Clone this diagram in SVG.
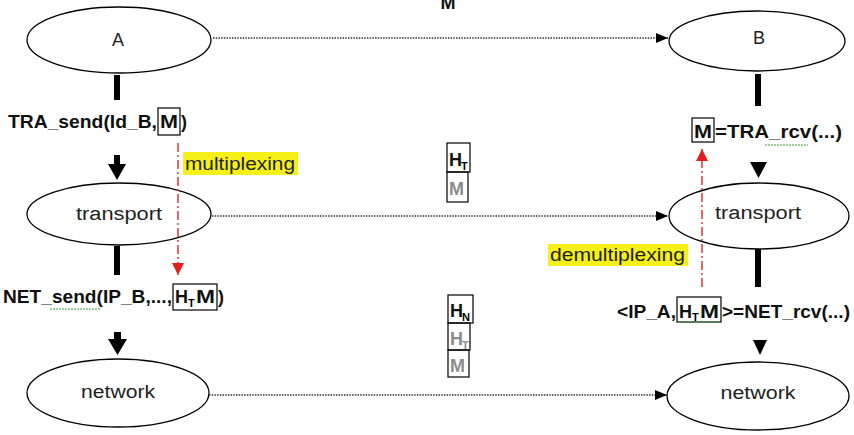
<svg xmlns="http://www.w3.org/2000/svg" width="854" height="435" viewBox="0 0 854 435">
<style>
.node{fill:#fff;stroke:#000;stroke-width:1.3}
.lbl{font-family:"Liberation Sans",Arial,sans-serif;font-size:18px;fill:#222}
.b{font-family:"Liberation Sans",Arial,sans-serif;font-size:18px;font-weight:bold;fill:#111}
.sub{font-family:"Liberation Sans",Arial,sans-serif;font-size:11px;font-weight:bold}
.gray{fill:#8c8c8c}
.box{fill:none;stroke:#000;stroke-width:1.2}
.dot{fill:none;stroke:#333;stroke-width:1.6;stroke-dasharray:1.5 1.2}
.red{fill:none;stroke:#e53535;stroke-width:1.5;stroke-dasharray:9 3 2 3}
.thick{stroke:#000;stroke-width:6}
.hl{fill:#f5f018}
.sq{fill:none;stroke:#3aa03a;stroke-width:1;stroke-dasharray:2 1}
</style>
<defs>
<marker id="ah" markerWidth="12" markerHeight="10" refX="12" refY="5" orient="auto" markerUnits="userSpaceOnUse"><path d="M0,0 L12,5 L0,10 Z" fill="#000"/></marker>
<marker id="rh" markerWidth="12" markerHeight="12" refX="12" refY="6" orient="auto" markerUnits="userSpaceOnUse"><path d="M0,0 L12,6 L0,12 Z" fill="#e51e1e"/></marker>
</defs>

<text class="b" x="448" y="9" text-anchor="middle">M</text>

<g id="nodeA"><ellipse class="node" cx="119" cy="40" rx="92" ry="33"/><text class="lbl" x="118" y="46" text-anchor="middle">A</text></g>
<g id="nodeB"><ellipse class="node" cx="757" cy="41" rx="88" ry="30"/><text class="lbl" x="759" y="44" text-anchor="middle">B</text></g>
<g id="transportL"><ellipse class="node" cx="119" cy="214" rx="92" ry="31"/><text class="lbl" x="119" y="220" text-anchor="middle" textLength="86" lengthAdjust="spacingAndGlyphs">transport</text></g>
<g id="transportR"><ellipse class="node" cx="759" cy="216" rx="90" ry="33"/><text class="lbl" x="758" y="219" text-anchor="middle" textLength="86" lengthAdjust="spacingAndGlyphs">transport</text></g>
<g id="networkL"><ellipse class="node" cx="118" cy="393" rx="91" ry="34"/><text class="lbl" x="118" y="398" text-anchor="middle" textLength="74" lengthAdjust="spacingAndGlyphs">network</text></g>
<g id="networkR"><ellipse class="node" cx="758" cy="396" rx="91" ry="34"/><text class="lbl" x="758" y="399" text-anchor="middle" textLength="75" lengthAdjust="spacingAndGlyphs">network</text></g>

<g id="connectors">
<line class="dot" x1="213" y1="38" x2="668" y2="38" marker-end="url(#ah)"/>
<line class="dot" x1="212" y1="216" x2="668" y2="216" marker-end="url(#ah)"/>
<line class="dot" x1="209" y1="395" x2="667" y2="395" marker-end="url(#ah)"/>
<line class="thick" x1="117" y1="75" x2="117" y2="100"/>
<line class="thick" x1="117" y1="246" x2="117" y2="275"/>
<line class="thick" x1="758" y1="74" x2="758" y2="106"/>
<line class="thick" x1="758" y1="249" x2="758" y2="287"/>
<path d="M114,155 H120 V164 H126 L117,180 L108,164 H114 Z" fill="#000"/>
<path d="M114,332 H121 V339 H127 L117.5,355 L108,339 H114 Z" fill="#000"/>
<path d="M750,162 H767 L758.5,178 Z" fill="#000"/>
<path d="M753,340 H767 L760,355 Z" fill="#000"/>
<line class="red" x1="178" y1="143" x2="178" y2="275" marker-end="url(#rh)"/>
<line class="red" x1="702" y1="287" x2="702" y2="149" marker-end="url(#rh)"/>
</g>

<g id="labels">
<rect class="hl" x="183" y="152" width="115" height="23"/>
<text class="lbl" x="185" y="170" textLength="110" lengthAdjust="spacingAndGlyphs">multiplexing</text>
<rect class="hl" x="548" y="244" width="140" height="22"/>
<text class="lbl" x="550" y="261" textLength="135" lengthAdjust="spacingAndGlyphs">demultiplexing</text>

<text class="b" x="8" y="128" textLength="149" lengthAdjust="spacingAndGlyphs">TRA_send(Id_B,</text>
<rect class="box" x="158" y="108" width="22" height="27"/>
<text class="b" x="160" y="128" textLength="18" lengthAdjust="spacingAndGlyphs">M</text>
<text class="b" x="181" y="128">)</text>

<text class="b" x="3" y="303" textLength="169" lengthAdjust="spacingAndGlyphs">NET_send(IP_B,...,</text>
<path class="sq" d="M50,309 H100"/>
<rect class="box" x="173" y="284" width="44" height="26"/>
<text class="b" x="175" y="303">H</text><text class="sub" x="188" y="307">T</text>
<text class="b" x="196" y="303" textLength="19" lengthAdjust="spacingAndGlyphs">M</text>
<text class="b" x="218" y="303">)</text>

<rect class="box" x="692" y="118" width="22" height="24"/>
<text class="b" x="694" y="138" textLength="18" lengthAdjust="spacingAndGlyphs">M</text>
<text class="b" x="715" y="138" textLength="127" lengthAdjust="spacingAndGlyphs">=TRA_rcv(...)</text>
<path class="sq" d="M765,145 H808"/>

<text class="b" x="617" y="318" textLength="59" lengthAdjust="spacingAndGlyphs">&lt;IP_A,</text>
<rect class="box" x="677" y="297" width="44" height="25"/>
<text class="b" x="679" y="318">H</text><text class="sub" x="692" y="321">T</text>
<text class="b" x="700" y="318" textLength="19" lengthAdjust="spacingAndGlyphs">M</text>
<path class="sq" d="M678,322 H720"/>
<text class="b" x="722" y="318" textLength="128" lengthAdjust="spacingAndGlyphs">&gt;=NET_rcv(...)</text>

<rect class="box" x="447" y="143" width="23" height="29"/>
<text class="b" x="449" y="166">H</text><text class="sub" x="461" y="170">T</text>
<rect class="box" x="447" y="172" width="21" height="30"/>
<text class="b gray" x="449" y="195">M</text>

<rect class="box" x="448" y="295" width="25" height="28"/>
<text class="b" x="450" y="317">H</text><text class="sub" x="462" y="321">N</text>
<rect class="box" x="448" y="323" width="22" height="27"/>
<text class="b gray" x="450" y="345">H</text><text class="sub gray" x="462" y="349">T</text>
<rect class="box" x="448" y="350" width="21" height="27"/>
<text class="b gray" x="450" y="372">M</text>
</g>
</svg>
